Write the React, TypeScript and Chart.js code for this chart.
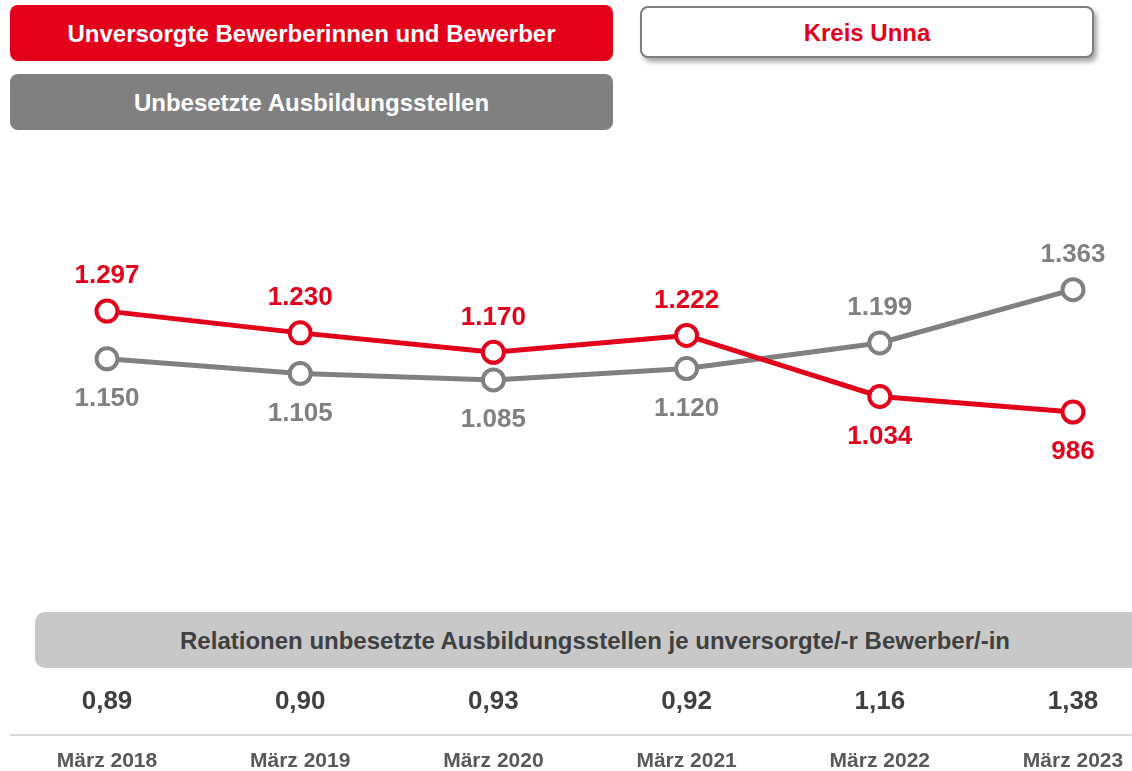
import React, { useEffect, useRef } from "react";
import { Chart, registerables } from "chart.js";

Chart.register(...registerables);

const categories = ["März 2018", "März 2019", "März 2020", "März 2021", "März 2022", "März 2023"];
const unversorgte = [1297, 1230, 1170, 1222, 1034, 986];
const unbesetzte = [1150, 1105, 1085, 1120, 1199, 1363];
const relationen = ["0,89", "0,90", "0,93", "0,92", "1,16", "1,38"];
const seriesNames = ["Unversorgte Bewerberinnen und Bewerber", "Unbesetzte Ausbildungsstellen"];
const regionName = "Kreis Unna";
const relationTitle = "Relationen unbesetzte Ausbildungsstellen je unversorgte/-r Bewerber/-in";

const RED = "#E2001A";
const GRAY = "#808080";
const FONT = "'Liberation Sans', Arial, sans-serif";

function fmt(v: number): string {
  if (v >= 1000) {
    return Math.floor(v / 1000) + "." + String(v % 1000).padStart(3, "0");
  }
  return String(v);
}

const labelPlugin = {
  id: "valueLabels",
  afterDatasetsDraw(chart: any) {
    const ctx = chart.ctx;
    const ds = chart.data.datasets;
    ctx.save();
    ctx.font = `bold 26px ${FONT}`;
    ctx.textAlign = "center";
    ctx.textBaseline = "middle";
    ds.forEach((d: any, i: number) => {
      const other = ds[1 - i];
      const meta = chart.getDatasetMeta(i);
      meta.data.forEach((pt: any, j: number) => {
        const v = d.data[j];
        const above = v >= other.data[j];
        ctx.fillStyle = d.borderColor;
        ctx.fillText(fmt(v), pt.x, above ? pt.y - 35 : pt.y + 40);
      });
    });
    // relation values
    const xs = chart.scales.x;
    ctx.fillStyle = "#404040";
    ctx.font = `bold 26px ${FONT}`;
    relationen.forEach((r, j) => {
      ctx.fillText(r, xs.getPixelForValue(j), 702);
    });
    ctx.restore();
  },
};

export default function App() {
  const ref = useRef<HTMLCanvasElement | null>(null);
  useEffect(() => {
    if (!ref.current) return;
    const chart = new Chart(ref.current, {
      type: "line",
      data: {
        labels: categories,
        datasets: [
          {
            label: seriesNames[0],
            data: unversorgte,
            borderColor: RED,
            backgroundColor: "#ffffff",
            borderWidth: 5,
            pointRadius: 10.5,
            pointBorderWidth: 4,
            pointBackgroundColor: "#ffffff",
            pointBorderColor: RED,
            tension: 0,
          },
          {
            label: seriesNames[1],
            data: unbesetzte,
            borderColor: GRAY,
            backgroundColor: "#ffffff",
            borderWidth: 5,
            pointRadius: 10.5,
            pointBorderWidth: 4,
            pointBackgroundColor: "#ffffff",
            pointBorderColor: GRAY,
            tension: 0,
          },
        ],
      },
      options: {
        responsive: false,
        animation: false,
        layout: { padding: { left: 107, right: 59, top: 83, bottom: 0 } },
        plugins: { legend: { display: false }, tooltip: { enabled: false } },
        scales: {
          x: {
            grid: { display: false, drawTicks: false },
            border: { display: false },
            ticks: {
              font: { family: FONT, weight: "bold", size: 21 },
              color: "#595959",
              padding: 17,
              maxRotation: 0,
              autoSkip: false,
            },
            afterFit: (scale: any) => {
              scale.height = 39;
              scale.paddingLeft = 0;
              scale.paddingRight = 0;
            },
          },
          y: { display: false, min: 0, max: 2000 },
        },
      },
      plugins: [labelPlugin],
    } as any);
    return () => chart.destroy();
  }, []);

  const boxText: React.CSSProperties = {
    position: "absolute",
    display: "flex",
    alignItems: "center",
    justifyContent: "center",
    fontFamily: FONT,
    fontWeight: "bold",
    fontSize: 24,
    boxSizing: "border-box",
  };

  return (
    <div style={{ position: "absolute", left: 0, top: 0, width: 1132, height: 771, overflow: "hidden", background: "#fff" }}>
      <div style={{ ...boxText, left: 10, top: 5, width: 603, height: 56, background: RED, color: "#fff", borderRadius: 8, paddingTop: 2 }}>
        {seriesNames[0]}
      </div>
      <div style={{ ...boxText, left: 10, top: 74, width: 603, height: 56, background: GRAY, color: "#fff", borderRadius: 8, paddingTop: 2 }}>
        {seriesNames[1]}
      </div>
      <div
        style={{
          ...boxText,
          left: 640,
          top: 6,
          width: 454,
          height: 52,
          background: "#fff",
          color: RED,
          border: "2px solid #7f7f7f",
          borderRadius: 8,
          boxShadow: "3px 4px 5px rgba(0,0,0,0.35)",
          paddingTop: 2,
        }}
      >
        {regionName}
      </div>
      <div
        style={{
          ...boxText,
          left: 35,
          top: 612,
          width: 1120,
          height: 56,
          background: "#C8C8C8",
          color: "#404040",
          borderRadius: 10,
          fontSize: 24,
          paddingTop: 2,
        }}
      >
        {relationTitle}
      </div>
      <div style={{ position: "absolute", left: 10, top: 734, width: 1122, height: 2, background: "#D9D9D9" }} />
      <canvas ref={ref} width={1132} height={771} style={{ position: "absolute", left: 0, top: 0, width: 1132, height: 771 }} />
    </div>
  );
}
